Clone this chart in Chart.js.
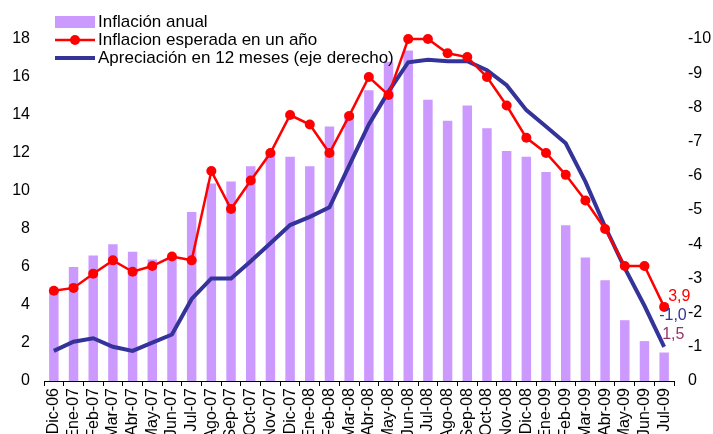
<!DOCTYPE html>
<html>
<head>
<meta charset="utf-8">
<script src="https://cdn.jsdelivr.net/npm/chart.js@4"></script>
<style>
  body { margin: 0; background: #fff; overflow: hidden; }
</style>
</head>
<body>
<canvas id="grafico" width="713" height="434"></canvas>
<script>
// meses
const meses = ['Dic-06', 'Ene-07', 'Feb-07', 'Mar-07', 'Abr-07', 'May-07', 'Jun-07', 'Jul-07', 'Ago-07', 'Sep-07', 'Oct-07', 'Nov-07',
    'Dic-07', 'Ene-08', 'Feb-08', 'Mar-08', 'Abr-08', 'May-08', 'Jun-08', 'Jul-08', 'Ago-08', 'Sep-08', 'Oct-08', 'Nov-08',
    'Dic-08', 'Ene-09', 'Feb-09', 'Mar-09', 'Abr-09', 'May-09', 'Jun-09', 'Jul-09'];

const inflacionAnual = [4.7, 6.0, 6.6, 7.2, 6.8, 6.4, 6.5, 8.9, 10.4, 10.5, 11.3, 12.1,
    11.8, 11.3, 13.4, 14.1, 15.3, 16.8, 17.4, 14.8, 13.7, 14.5, 13.3, 12.1,
    11.8, 11.0, 8.2, 6.5, 5.3, 3.2, 2.1, 1.5];

const inflacionEsperada = [4.75, 4.9, 5.65, 6.35, 5.75, 6.05, 6.55, 6.35, 11.05, 9.05, 10.55, 12.0,
    14.0, 13.5, 12.0, 13.95, 16.0, 15.05, 18.0, 18.0, 17.25, 17.05, 16.0, 14.5,
    12.8, 12.0, 10.85, 9.5, 8.0, 6.05, 6.05, 3.9];

// eje derecho (invertido)
const apreciacion = [-0.88, -1.15, -1.25, -1.0, -0.88, -1.12, -1.36, -2.4, -3.0, -3.0, -3.5, -4.03,
    -4.56, -4.8, -5.08, -6.3, -7.5, -8.46, -9.32, -9.39, -9.35, -9.35, -9.09, -8.65,
    -7.92, -7.44, -6.95, -5.83, -4.51, -3.3, -2.2, -1.0];

const fuente = "'Liberation Sans', Arial, sans-serif";

// leyenda y etiquetas finales
const extras = {
    id: 'extras',
    afterDatasetsDraw(chart) {
        const ctx = chart.ctx;
        const ds = chart.data.datasets;
        ctx.save();
        ctx.font = '17px ' + fuente;
        ctx.textBaseline = 'middle';
        ctx.textAlign = 'left';
        const filas = [22, 40, 58];
        // barra
        ctx.fillStyle = ds[0].backgroundColor;
        ctx.fillRect(55, 16, 40, 12);
        // roja
        ctx.strokeStyle = ds[1].borderColor;
        ctx.lineWidth = 2.5;
        ctx.beginPath(); ctx.moveTo(55, filas[1]); ctx.lineTo(95, filas[1]); ctx.stroke();
        ctx.fillStyle = ds[1].borderColor;
        ctx.beginPath(); ctx.arc(75, filas[1], 5, 0, Math.PI * 2); ctx.fill();
        // azul
        ctx.strokeStyle = ds[2].borderColor;
        ctx.lineWidth = 4;
        ctx.beginPath(); ctx.moveTo(55, filas[2]); ctx.lineTo(95, filas[2]); ctx.stroke();
        ctx.fillStyle = '#000';
        ds.forEach((d, i) => ctx.fillText(d.label, 98, filas[i]));

        // valores del ultimo mes
        const fmt = v => v.toFixed(1).replace('.', ',');
        const n = meses.length - 1;
        ctx.font = '16px ' + fuente;
        const pRoja = chart.getDatasetMeta(1).data[n];
        ctx.fillStyle = '#FF0000';
        ctx.fillText(fmt(inflacionEsperada[n]), pRoja.x + 4, pRoja.y - 10);
        const pAzul = chart.getDatasetMeta(2).data[n];
        ctx.fillStyle = '#333399';
        ctx.fillText(fmt(apreciacion[n]), pAzul.x - 5, pAzul.y - 31);
        const pBarra = chart.getDatasetMeta(0).data[n];
        ctx.fillStyle = '#993366';
        ctx.fillText(fmt(inflacionAnual[n]), pBarra.x - 2, pBarra.y - 18);
        ctx.restore();
    }
};

const ctxGrafico = document.getElementById('grafico').getContext('2d');
const grafico = new Chart(ctxGrafico, {
    type: 'bar',
    data: {
        labels: meses,
        datasets: [{
            type: 'bar',
            label: 'Inflación anual',
            data: inflacionAnual,
            backgroundColor: '#CC99FF',
            categoryPercentage: 1,
            barPercentage: 0.48,
            yAxisID: 'y',
            order: 3
        }, {
            type: 'line',
            label: 'Inflacion esperada en un año',
            data: inflacionEsperada,
            borderColor: '#FF0000',
            backgroundColor: '#FF0000',
            borderWidth: 2.5,
            pointRadius: 5,
            pointBorderWidth: 0,
            tension: 0,
            clip: false,
            yAxisID: 'y',
            order: 1
        }, {
            type: 'line',
            label: 'Apreciación en 12 meses (eje derecho)',
            data: apreciacion,
            borderColor: '#333399',
            backgroundColor: '#333399',
            borderWidth: 4,
            pointRadius: 0,
            tension: 0,
            clip: false,
            yAxisID: 'y1',
            order: 2
        }]
    },
    options: {
        responsive: false,
        animation: false,
        layout: { padding: { top: 39, left: 0, right: 0, bottom: 0 } },
        plugins: {
            legend: { display: false },
            tooltip: { enabled: false }
        },
        scales: {
            x: {
                grid: { display: true, drawOnChartArea: false, tickLength: 5, color: '#000', offset: true },
                border: { display: true, color: '#000', width: 1 },
                ticks: {
                    autoSkip: false,
                    minRotation: 90,
                    maxRotation: 90,
                    padding: 2,
                    color: '#000',
                    font: { size: 16, family: fuente }
                },
                afterFit(scale) { scale.height = 53; }
            },
            y: {
                position: 'left',
                min: 0,
                max: 18,
                grid: { display: false, drawTicks: false },
                border: { display: false },
                ticks: { stepSize: 2, padding: 14, color: '#000', font: { size: 16, family: fuente } },
                afterFit(scale) { scale.width = 44; }
            },
            y1: {
                position: 'right',
                min: -10,
                max: 0,
                reverse: true,
                grid: { display: false, drawTicks: false },
                border: { display: false },
                ticks: { stepSize: 1, padding: 14, color: '#000', font: { size: 16, family: fuente } },
                afterFit(scale) { scale.width = 39; }
            }
        }
    },
    plugins: [extras]
});
</script>
</body>
</html>
